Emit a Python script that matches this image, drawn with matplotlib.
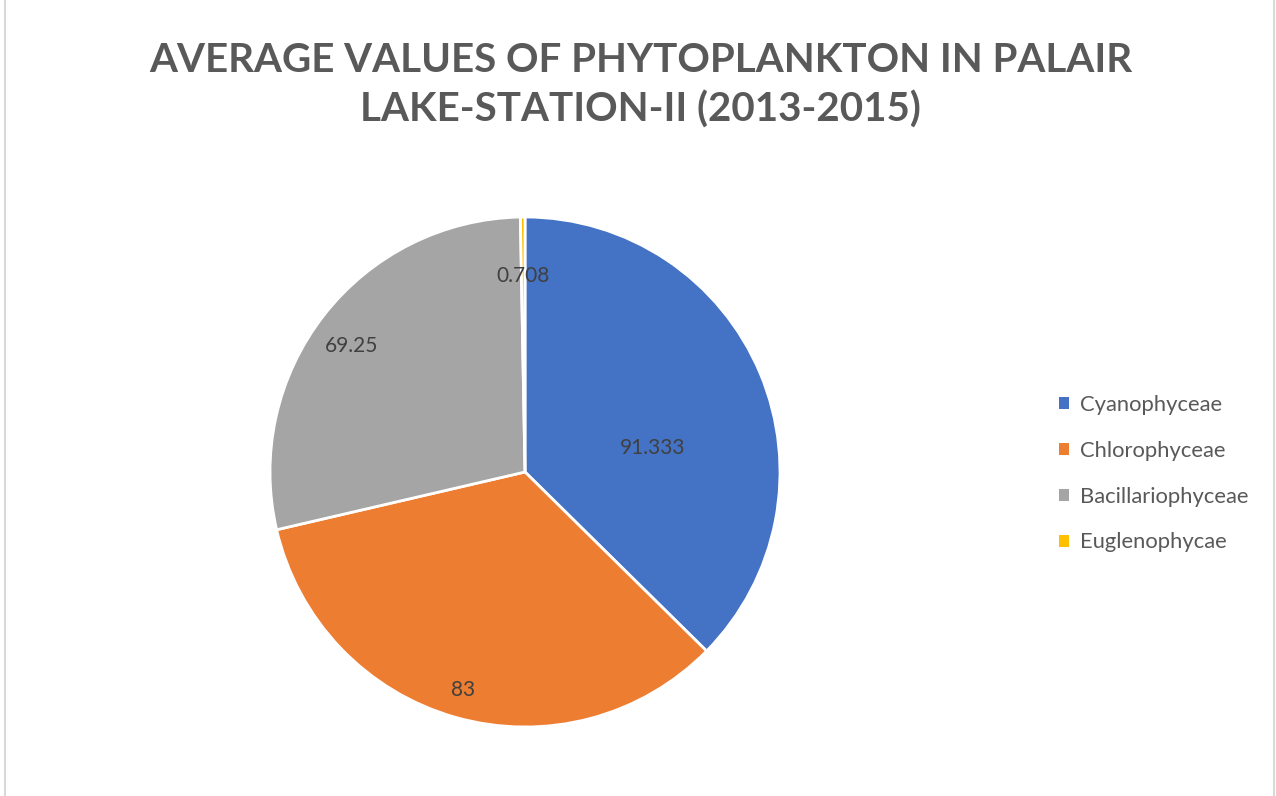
import numpy as np
import matplotlib
matplotlib.use('Agg')
import matplotlib.pyplot as plt
from matplotlib.patches import Patch
from matplotlib.lines import Line2D

# ── 데이터 ─────────────────────────────────
classes = ['Cyanophyceae', 'Chlorophyceae', 'Bacillariophyceae', 'Euglenophycae']
values = [91.333, 83, 69.25, 0.708]
labels = ['91.333', '83', '69.25', '0.708']
colors = ['#4472C4', '#ED7D31', '#A5A5A5', '#FFC000']

# 라벨 위치 (반지름 비율, 각도 보정)
label_r = [0.51, 0.89, 0.84, 0.77]
label_dang = [-12, 0, 2, 0]

plt.rcParams['font.family'] = ['Lato', 'DejaVu Sans']

fig = plt.figure(figsize=(12.76, 7.96), dpi=100)
fig.patch.set_facecolor('white')

ax = fig.add_axes([0.2116, 0.0867, 0.3997, 0.6407])
wedges, _ = ax.pie(
  values, colors=colors, startangle=90, counterclock=False,
  wedgeprops=dict(edgecolor='white', linewidth=2),
)
ax.set_xlim(-1, 1)
ax.set_ylim(-1, 1)
ax.set_aspect('equal')
ax.axis('off')

for w, lab, r, da in zip(wedges, labels, label_r, label_dang):
  ang = np.deg2rad((w.theta1 + w.theta2) / 2 + da)
  ax.text(r * np.cos(ang), r * np.sin(ang), lab, ha='center', va='center',
          fontsize=15, color='#404040')

fig.text(0.502, 0.893, 'AVERAGE VALUES OF PHYTOPLANKTON IN PALAIR\nLAKE-STATION-II (2013-2015)',
         ha='center', va='center', fontsize=29, fontweight='bold',
         color='#595959', linespacing=1.38)

handles = [Patch(facecolor=c, edgecolor='none') for c in colors]
fig.legend(handles, classes, loc='center left', bbox_to_anchor=(0.8145, 0.405),
           frameon=False, fontsize=15.8, labelcolor='#595959',
           handlelength=0.45, handleheight=0.45, handletextpad=0.5,
           labelspacing=1.18)

# 테두리
fig.add_artist(Line2D([0.004, 0.004], [0, 1], color='#D9D9D9', lw=1.5))
fig.add_artist(Line2D([0.9985, 0.9985], [0, 1], color='#D9D9D9', lw=1.5))

fig.savefig('out.png', dpi=100, facecolor='white')
